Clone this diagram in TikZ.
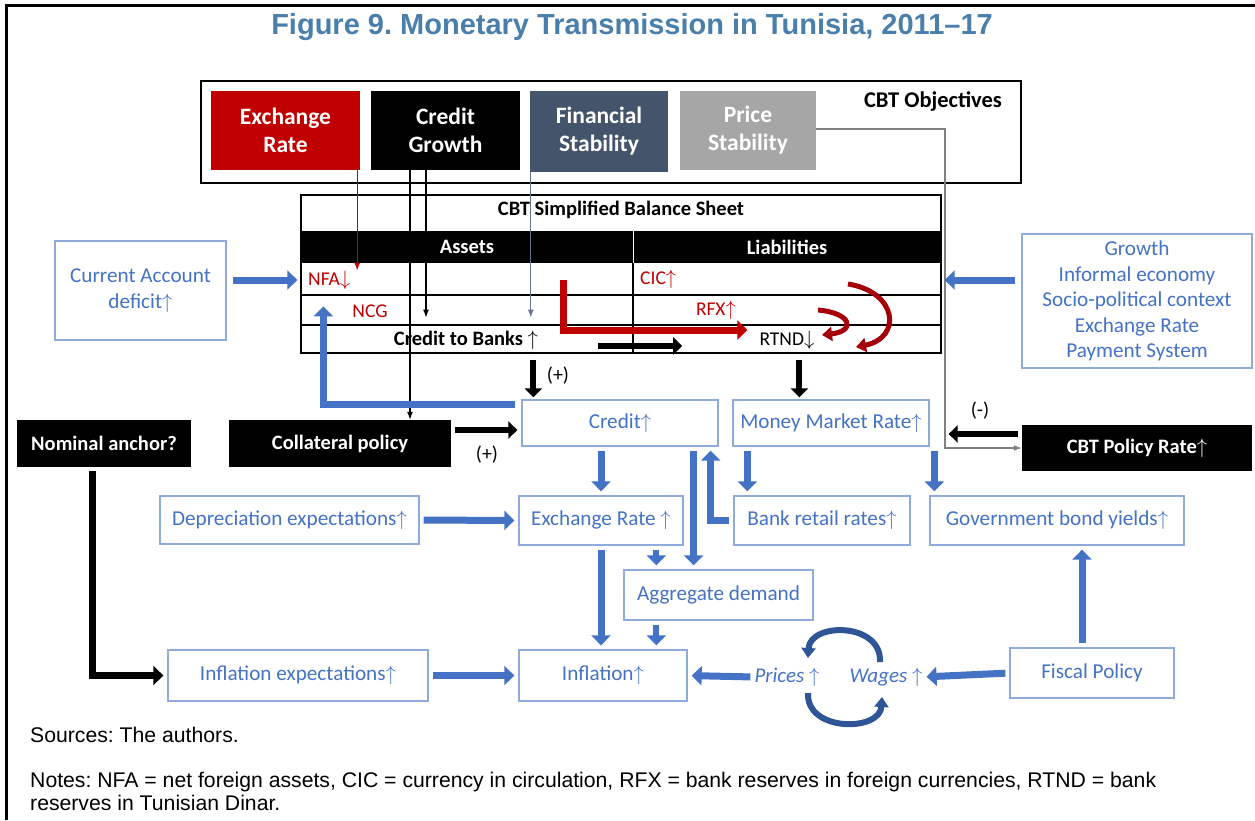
\documentclass[tikz,border=0pt]{standalone}
\usepackage{fontspec}
\setmainfont{Carlito}
\newfontfamily\arialfont{Liberation Sans}
\usetikzlibrary{arrows.meta,calc}
\frenchspacing
\definecolor{ttlblue}{RGB}{74,126,171}
\definecolor{txtblue}{RGB}{68,114,196}
\definecolor{boxblue}{RGB}{143,170,220}
\definecolor{arrblue}{RGB}{68,114,196}
\definecolor{cycblue}{RGB}{47,85,151}
\definecolor{exred}{RGB}{192,0,0}
\definecolor{darkred}{RGB}{165,0,10}
\definecolor{slate}{RGB}{68,84,106}
\definecolor{slateline}{RGB}{100,118,145}
\definecolor{pgray}{RGB}{166,166,166}
\tikzset{
  bluebox/.style = {draw=boxblue, line width=1.3pt, text=txtblue, align=center,
    inner sep=0pt, font=\fontsize{21.2}{25.5}\selectfont},
  blackbox/.style = {fill=black, text=white, inner sep=0pt,
    font=\bfseries\fontsize{20.5}{24}\selectfont},
  objbox/.style = {fill=#1, text=white, align=center, inner sep=0pt,
    minimum width=149pt, minimum height=79pt, font=\bfseries\fontsize{23.5}{28}\selectfont},
  bsred/.style = {text=exred, inner sep=0pt, font=\fontsize{19.5}{22}\selectfont},
  bsbold/.style = {inner sep=0pt, font=\bfseries\fontsize{20.5}{22}\selectfont},
  bluearrow/.style = {draw=arrblue, line width=7pt, -{Triangle[width=19pt,length=10pt]},
    shorten <=4pt, shorten >=4pt},
  blackarrow/.style = {draw=black, line width=6pt, -{Triangle[width=17pt,length=9pt]},
    shorten <=4pt, shorten >=4pt},
  thinarrow/.style = {line width=1.2pt, -{Latex[length=8pt,width=6pt]}},
  curvearrow/.style = {line width=5pt, -{Triangle[width=14pt,length=10pt]}},
  sign/.style = {inner sep=0pt, font=\fontsize{20}{22}\selectfont}
}
\newcommand{\arrup}{$\uparrow$}
\newcommand{\arrdn}{$\downarrow$}

\begin{document}
\begin{tikzpicture}[x=1pt,y=-1pt]
  \useasboundingbox (0,0) rectangle (1255,820);
  % frame
  \draw[line width=3pt] (6,820) -- (6,5) -- (1255,5);
  % title
  \node[text=ttlblue, font=\arialfont\bfseries\fontsize{29}{34}\selectfont] (title) at (632,27)
    {Figure 9. Monetary Transmission in Tunisia, 2011–17};
  % objectives
  \node[draw, line width=2pt, inner sep=0pt, minimum width=820pt, minimum height=102pt] (objectives) at (611,132) {};
  \node[objbox=exred] (exrate) at (285.5,130.5) {Exchange\\Rate};
  \node[objbox=black] (credgrowth) at (445.5,130.5) {Credit\\Growth};
  \node[objbox=slate, minimum width=138pt, minimum height=81pt] (finstab) at (599,131.5) {Financial\\Stability};
  \node[objbox=pgray, minimum width=136pt] (pricestab) at (748,130.5) {Price\\Stability};
  \node[font=\bfseries\fontsize{22.5}{24}\selectfont] (objtitle) at (933,101) {CBT Objectives};
  % balance sheet
  \node[draw, line width=1.3pt, inner sep=0pt, minimum width=640pt, minimum height=158pt] (bs) at (621,274) {};
  \fill (301,231) rectangle (941,263);
  \draw[line width=1.2pt] (301,295) -- (941,295) (301,325) -- (941,325);
  \draw[white, line width=0.8pt] (633,231) -- (633,263);
  \draw[line width=1.2pt] (633,263) -- (633,353);
  \node[bsbold] (bstitle) at (621,210) {CBT Simplified Balance Sheet};
  \node[bsbold, text=white] (assets) at (467,247) {Assets};
  \node[bsbold, text=white] (liab) at (787,247) {Liabilities};
  \node[bsred, anchor=west] (nfa) at (308,280) {NFA\arrdn};
  \node[bsred, anchor=west] (cic) at (640,279) {CIC\arrup};
  \node[bsred] (ncg) at (370,311) {NCG};
  \node[bsred] (rfx) at (716,310) {RFX\arrup};
  \node[bsbold] (ctb) at (466,340) {Credit to Banks \arrup};
  \node[inner sep=0pt, font=\fontsize{19.5}{22}\selectfont] (rtnd) at (787,340) {RTND\arrdn};
  % side boxes
  \node[bluebox, minimum width=171pt, minimum height=99pt] (ca) at (140.5,290.5) {Current Account\\deficit\arrup};
  \node[bluebox, minimum width=230pt, minimum height=134pt] (drivers) at (1137,301)
    {Growth\\Informal economy\\Socio-political context\\Exchange Rate\\Payment System};
  % middle row
  \node[blackbox, minimum width=174pt, minimum height=47pt] (nominal) at (104,443.5) {Nominal anchor?};
  \node[blackbox, minimum width=222pt, minimum height=47pt] (collat) at (340,443.5) {Collateral policy};
  \node[bluebox, minimum width=196pt, minimum height=46pt] (credit) at (620,423) {Credit\arrup};
  \node[bluebox, minimum width=196pt, minimum height=46pt] (mmr) at (831,423) {Money Market Rate\arrup};
  \node[blackbox, minimum width=230pt, minimum height=46pt] (policy) at (1137,448) {CBT Policy Rate\arrup};
  \node[bluebox, minimum width=259pt, minimum height=48pt] (depr) at (289.5,520) {Depreciation expectations\arrup};
  \node[bluebox, minimum width=164pt, minimum height=49pt] (exch) at (601,520.5) {Exchange Rate \arrup};
  \node[bluebox, minimum width=176pt, minimum height=49pt] (retail) at (822,520.5) {Bank retail rates\arrup};
  \node[bluebox, minimum width=254pt, minimum height=49pt] (gov) at (1057,520.5) {Government bond yields\arrup};
  \node[bluebox, minimum width=189pt, minimum height=50pt] (agg) at (718.5,595) {Aggregate demand};
  % bottom row
  \node[bluebox, minimum width=260pt, minimum height=51pt] (inflexp) at (298,675.5) {Inflation expectations\arrup};
  \node[bluebox, minimum width=168pt, minimum height=51pt] (infl) at (603,675.5) {Inflation\arrup};
  \node[text=txtblue, inner sep=0pt, font=\itshape\fontsize{21}{24}\selectfont] (prices) at (787,677) {Prices \arrup};
  \node[text=txtblue, inner sep=0pt, font=\itshape\fontsize{21}{24}\selectfont] (wages) at (886,677) {Wages \arrup};
  \node[bluebox, minimum width=164pt, minimum height=50pt] (fiscal) at (1092,673) {Fiscal Policy};
  % notes
  \node[anchor=west, inner sep=0pt, font=\arialfont\fontsize{21.2}{24}\selectfont] (sources) at (30,735) {Sources: The authors.};
  \node[anchor=north west, inner sep=0pt, align=left, font=\arialfont\fontsize{21.2}{23}\selectfont] (notes) at (30,772)
    {Notes: NFA = net foreign assets, CIC = currency in circulation, RFX = bank reserves in foreign currencies, RTND = bank\\reserves in Tunisian Dinar.};
  % lines from objectives
  \coordinate (gx) at (945,0);
  \draw[thinarrow, exred] ([xshift=-3pt]exrate.south east) -- ([xshift=-3pt]exrate.south east |- nfa.north);
  \draw[thinarrow] ([xshift=-35.5pt]credgrowth.south) -- ([xshift=-35.5pt]credgrowth.south |- collat.north);
  \draw[thinarrow] ([xshift=-19.5pt]credgrowth.south) -- ([xshift=-19.5pt]credgrowth.south |- ncg.south);
  \draw[thinarrow, slateline] ([xshift=1pt]finstab.south west) -- ([xshift=1pt]finstab.south west |- ncg.south);
  \draw[thinarrow, gray] ([yshift=1.5pt]pricestab.east) -- ([yshift=1.5pt]pricestab.east -| gx) -- (gx |- policy.west) -- (policy.west);
  % balance sheet arrows
  \draw[bluearrow, shorten <=6pt, shorten >=3pt] (ca.east |- nfa) -- (bs.west |- nfa);
  \draw[bluearrow, shorten <=6pt, shorten >=3pt] (drivers.west |- nfa) -- (bs.east |- nfa);
  \draw[bluearrow, shorten <=6pt, shorten >=2pt]
    ([yshift=-5pt]credit.north west) -| ([xshift=23pt]bs.west |- ncg.north);
  \draw[exred, line width=7pt, -{Triangle[width=19pt,length=10pt]}] (563,280) |- ([xshift=-12pt,yshift=10pt]rtnd.west);
  \draw[blackarrow, shorten <=0pt, shorten >=0pt] ([xshift=60pt,yshift=-6pt]ctb.east) -- ++(84,0);
  \draw[curvearrow, darkred] (848,284) .. controls (898,292) and (902,338) .. (856,347);
  \draw[curvearrow, darkred] (818,310) .. controls (852,313) and (856,331) .. (822,335);
  \draw[blackarrow, shorten <=6pt, shorten >=2pt] ([xshift=12pt]credit.north west |- bs.south) -- ([xshift=12pt]credit.north west);
  \node[sign] (plus1) at (558,376) {(+)};
  \draw[blackarrow, shorten <=6pt, shorten >=2pt] ([xshift=67pt]mmr.north west |- bs.south) -- ([xshift=67pt]mmr.north west);
  % middle arrows
  \draw[blackarrow] ([yshift=-7pt]collat.east |- credit.west) -- ([yshift=-7pt]credit.west);
  \node[sign] (plus2) at (487,455) {(+)};
  \draw[blackarrow, shorten >=19pt] ([yshift=14pt]policy.west) -- ([yshift=14pt]policy.west -| mmr.east);
  \node[sign] (minus) at (980,411) {(-)};
  \draw[bluearrow] (exch.north |- credit.south) -- (exch.north);
  \draw[bluearrow] ([xshift=14pt]retail.north west |- mmr.south) -- ([xshift=14pt]retail.north west);
  \draw[bluearrow] ([xshift=5pt]gov.north west |- mmr.south) -- ([xshift=5pt]gov.north west);
  \draw[bluearrow] (retail.west) -| ([xshift=-8pt]credit.south east);
  \draw[bluearrow] ([xshift=-25pt]credit.south east) -- ([xshift=-25pt]credit.south east |- agg.north);
  \draw[bluearrow] (depr.east) -- (exch.west);
  \draw[bluearrow, line width=6pt] ([xshift=33pt]agg.north west |- exch.south) -- ([xshift=33pt]agg.north west);
  \draw[bluearrow] (exch.south) -- (exch.south |- infl.north);
  \draw[bluearrow, line width=6pt] ([xshift=33pt]agg.south west) -- ([xshift=33pt]agg.south west |- infl.north);
  % bottom arrows
  \draw[line width=7pt, -{Triangle[width=19pt,length=10pt]}, shorten >=4pt] ([xshift=-12pt]nominal.south) ++(0,4) |- (inflexp.west);
  \draw[bluearrow] (inflexp.east) -- (infl.west);
  \draw[bluearrow] (prices.west) -- (infl.east);
  \draw[bluearrow] (fiscal.west) -- (wages.east);
  \draw[bluearrow] ([xshift=-10pt]fiscal.north) -- ([xshift=-10pt]fiscal.north |- gov.south);
  \draw[curvearrow, cycblue, line width=6pt] (880,662) .. controls (882,622) and (810,622) .. (808,658);
  \draw[curvearrow, cycblue, line width=6pt] (808,693) .. controls (806,732) and (880,732) .. (882,697);
\end{tikzpicture}
\end{document}
